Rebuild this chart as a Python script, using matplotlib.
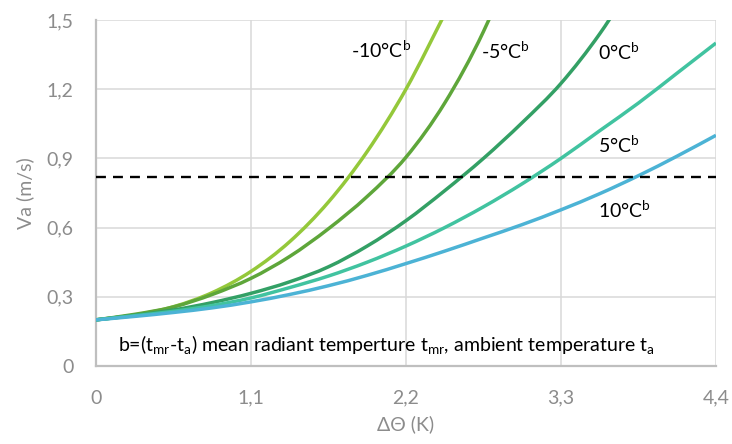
import matplotlib
matplotlib.use("Agg")
import matplotlib.pyplot as plt
from matplotlib.path import Path
from matplotlib.patches import PathPatch

# delta theta (K)
dtheta = [0, 0.275, 0.55, 0.825, 1.1, 1.375, 1.65, 1.925, 2.2, 2.475, 2.75,
          3.025, 3.3, 3.575, 3.85, 4.125, 4.4]

# air velocity Va (m/s) per radiant asymmetry b
va_m10 = [0.200, 0.221, 0.257, 0.318, 0.41, 0.539, 0.711, 0.93, 1.20, 1.526]
va_m5 = [0.200, 0.224, 0.256, 0.31, 0.38, 0.475, 0.595, 0.735, 0.905, 1.14, 1.45, 1.85]
va_0 = [0.200, 0.22, 0.243, 0.275, 0.315, 0.365, 0.43, 0.52, 0.63, 0.76, 0.90,
        1.055, 1.225, 1.44, 1.70]
va_5 = [0.200, 0.218, 0.237, 0.262, 0.295, 0.34, 0.39, 0.45, 0.52, 0.60, 0.69,
        0.79, 0.90, 1.02, 1.14, 1.27, 1.40]
va_10 = [0.200, 0.215, 0.232, 0.252, 0.278, 0.31, 0.348, 0.393, 0.444, 0.498, 0.555,
         0.613, 0.677, 0.747, 0.825, 0.91, 1.00]

series = [va_m10, va_m5, va_0, va_5, va_10]
colors = ["#94c83a", "#5ea63a", "#33a065", "#41c3a0", "#4cb3d5"]
labels = [r"-10°C$^{\rm b}$", r"-5°C$^{\rm b}$", r"0°C$^{\rm b}$",
          r"5°C$^{\rm b}$", r"10°C$^{\rm b}$"]
label_pos = [(1.81, 1.37), (2.735, 1.365), (3.563, 1.36), (3.563, 0.958), (3.563, 0.676)]

limit_va = 0.82

xticks = [0, 1.1, 2.2, 3.3, 4.4]
xticklabels = ["0", "1,1", "2,2", "3,3", "4,4"]
yticks = [0, 0.3, 0.6, 0.9, 1.2, 1.5]
yticklabels = ["0", "0,3", "0,6", "0,9", "1,2", "1,5"]


def smooth_path(xs, ys):
    # spreadsheet-style smoothed line: bezier segments through every point
    pts = list(zip(xs, ys))
    n = len(pts)
    verts = [pts[0]]
    codes = [Path.MOVETO]
    for i in range(n - 1):
        p0 = pts[max(i - 1, 0)]
        p1 = pts[i]
        p2 = pts[i + 1]
        p3 = pts[min(i + 2, n - 1)]
        c1 = (p1[0] + (p2[0] - p0[0]) / 6, p1[1] + (p2[1] - p0[1]) / 6)
        c2 = (p2[0] - (p3[0] - p1[0]) / 6, p2[1] - (p3[1] - p1[1]) / 6)
        verts += [c1, c2, p2]
        codes += [Path.CURVE4] * 3
    return Path(verts, codes)


plt.rcParams["font.family"] = ["Lato", "DejaVu Sans"]
plt.rcParams["mathtext.fontset"] = "custom"
plt.rcParams["mathtext.rm"] = "Lato"

fig = plt.figure(figsize=(7.32, 4.44), dpi=100)
ax = fig.add_axes([0.1311, 0.1757, 0.8470, 0.7793])

for vals, c in zip(series, colors):
    p = smooth_path(dtheta[:len(vals)], vals)
    ax.add_patch(PathPatch(p, fill=False, edgecolor=c, lw=2.5, capstyle="butt", zorder=3))

ax.axhline(limit_va, color="black", lw=1.7, ls=(0, (4.2, 3)), zorder=4)

for (x, y), t in zip(label_pos, labels):
    ax.text(x, y, t, fontsize=14, color="black", ha="left", va="center")

ax.text(0.036, 0.061,
        r"b=(t$_{\rm mr}$-t$_{\rm a}$) mean radiant temperture t$_{\rm mr}$, ambient temperature t$_{\rm a}$",
        fontsize=14, color="black", ha="left", va="center", transform=ax.transAxes, zorder=5)

ax.set_xlim(0, 4.4)
ax.set_ylim(0, 1.5)
ax.set_xticks(xticks)
ax.set_xticklabels(xticklabels)
ax.set_yticks(yticks)
ax.set_yticklabels(yticklabels)
ax.tick_params(axis="both", length=0, labelsize=14, labelcolor="#8c8c8c")
ax.tick_params(axis="x", pad=17)
ax.tick_params(axis="y", pad=16)
ax.grid(True, color="#d9d9d9", lw=1.1)
ax.set_axisbelow(True)
for s in ["top", "right"]:
    ax.spines[s].set_visible(False)
for s in ["left", "bottom"]:
    ax.spines[s].set_color("#bfbfbf")
    ax.spines[s].set_linewidth(1.6)

ax.set_xlabel("ΔΘ (K)", fontsize=14, color="#8c8c8c", labelpad=6)
ax.set_ylabel("Va (m/s)", fontsize=14, color="#8c8c8c", labelpad=9)

fig.savefig("out.png", dpi=100)
